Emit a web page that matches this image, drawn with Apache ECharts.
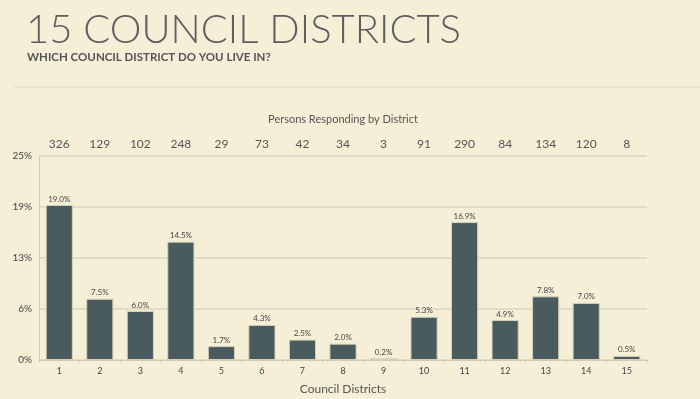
<!DOCTYPE html>
<html>
<head>
<meta charset="utf-8">
<script src="https://cdn.jsdelivr.net/npm/echarts@6/dist/echarts.min.js"></script>
<style>
html,body{margin:0;padding:0;background:#f6efd7;}
#c{width:700px;height:399px;}
</style>
</head>
<body>
<div id="c"></div>
<script>
const districts = ['1','2','3','4','5','6','7','8','9','10','11','12','13','14','15'];
const percentValues = [19.0, 7.5, 6.0, 14.5, 1.7, 4.3, 2.5, 2.0, 0.2, 5.3, 16.9, 4.9, 7.8, 7.0, 0.5];
const respondents = ['326','129','102','248','29','73','42','34','3','91','290','84','134','120','8'];
const titleText = '15 COUNCIL DISTRICTS';
const subtitleText = 'WHICH COUNCIL DISTRICT DO YOU LIVE IN?';

const chart = echarts.init(document.getElementById('c'), null, {renderer: 'canvas'});
const font = 'Lato, "Open Sans", sans-serif';
chart.setOption({
  backgroundColor: '#f6efd7',
  animation: false,
  title: [{
    text: titleText,
    left: 21, top: 5,
    textStyle: {fontFamily: font, fontWeight: 300, fontSize: 40, color: '#5e5e5e'}
  }, {
    text: subtitleText,
    left: 22, top: 46,
    textStyle: {fontFamily: font, fontWeight: 'bold', fontSize: 11.5, color: '#555'}
  }],
  graphic: [{
    type: 'line',
    shape: {x1: 14, y1: 87, x2: 700, y2: 87},
    style: {stroke: '#e2dbc3', lineWidth: 1}
  }],
  grid: {left: 39, right: 53, top: 156, bottom: 39, outerBoundsMode: 'none', containLabel: false},
  xAxis: [{
    type: 'category',
    data: districts,
    position: 'bottom',
    name: 'Council Districts',
    nameLocation: 'middle',
    nameGap: 23,
    nameTextStyle: {fontFamily: font, fontSize: 12, color: '#555'},
    axisLine: {lineStyle: {color: '#d2cbb0'}},
    axisTick: {show: true, length: 2, lineStyle: {color: '#c8c1a6'}},
    axisLabel: {fontFamily: font, fontSize: 9, color: '#444', margin: 7}
  }, {
    type: 'category',
    data: respondents,
    position: 'top',
    name: 'Persons Responding by District',
    nameLocation: 'middle',
    nameGap: 31,
    nameTextStyle: {fontFamily: font, fontSize: 11, color: '#555'},
    axisLine: {show: false},
    axisTick: {show: false},
    axisLabel: {fontFamily: font, fontSize: 12, color: '#555', margin: 6}
  }],
  yAxis: {
    type: 'value',
    min: 0, max: 25, interval: 6.25,
    axisLine: {show: true, lineStyle: {color: '#d2cbb0'}},
    axisTick: {show: false},
    splitLine: {lineStyle: {color: '#ddd6bb', width: 1.5}},
    axisLabel: {
      fontFamily: font, fontSize: 10, color: '#444', margin: 7,
      formatter: v => Math.round(v) + '%'
    }
  },
  series: [{
    type: 'bar',
    data: percentValues,
    xAxisIndex: 0,
    barWidth: '67%',
    itemStyle: {color: '#4a5b60', borderColor: '#d7d0b5', borderWidth: 1},
    label: {
      show: true, position: 'top', distance: 2,
      fontFamily: font, fontSize: 8, color: '#444',
      formatter: p => p.value.toFixed(1) + '%'
    }
  }]
});
</script>
</body>
</html>
